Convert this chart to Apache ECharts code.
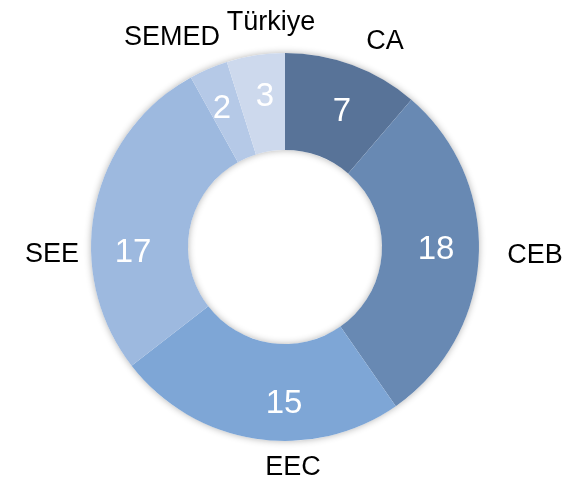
<!DOCTYPE html>
<html>
<head>
<meta charset="utf-8">
<script src="https://cdn.jsdelivr.net/npm/echarts@6/dist/echarts.min.js"></script>
<style>
  html, body { margin: 0; padding: 0; background: #fff; }
</style>
</head>
<body>
<div id="chart" style="width:562px; height:481px;"></div>
<script>
// data
const regions = ['CA', 'CEB', 'EEC', 'SEE', 'SEMED', 'Türkiye'];
const counts = [7, 18, 15, 17, 2, 3];
const colors = ['#587398', '#6889b3', '#7ea6d6', '#9db9df', '#b5c9e7', '#cdd9ed'];

// where the text sits (label layout only)
const nameLabelPos = [[385, 42], [535, 256], [293, 468], [52, 255], [172, 38], [271, 23]];
const valueLabelPos = [[342, 112], [436, 250], [284, 404], [133, 253], [222, 109], [265, 97]];

const FONT = '"Liberation Sans Narrow", "Liberation Sans", Arial, sans-serif';
const center = [285, 247];
const radius = [97, 194];

const pieData = regions.map((r, i) => ({
  name: r,
  value: counts[i],
  itemStyle: { color: colors[i] }
}));

const chart = echarts.init(document.getElementById('chart'), null, { renderer: 'canvas' });

chart.setOption({
  animation: false,
  backgroundColor: '#ffffff',
  series: [
    // soft shadow behind the ring
    {
      type: 'pie',
      silent: true,
      center: center,
      radius: radius,
      label: { show: false },
      labelLine: { show: false },
      itemStyle: {
        color: '#ffffff',
        shadowBlur: 7,
        shadowColor: 'rgba(0,0,0,0.3)'
      },
      data: [{ value: 1 }]
    },
    {
      type: 'pie',
      center: center,
      radius: radius,
      startAngle: 90,
      clockwise: true,
      avoidLabelOverlap: false,
      label: {
        show: true,
        position: 'inside',
        formatter: '{c}',
        color: '#ffffff',
        fontSize: 33,
        fontFamily: FONT
      },
      labelLayout: function (p) {
        const pos = valueLabelPos[p.dataIndex];
        return { x: pos[0], y: pos[1], align: 'center', verticalAlign: 'middle' };
      },
      labelLine: { show: false },
      data: pieData
    },
    // category names outside the ring
    {
      type: 'pie',
      silent: true,
      center: center,
      radius: radius,
      startAngle: 90,
      clockwise: true,
      avoidLabelOverlap: false,
      itemStyle: { color: 'rgba(0,0,0,0)' },
      label: {
        show: true,
        position: 'outside',
        formatter: '{b}',
        color: '#000000',
        fontSize: 27,
        fontFamily: FONT
      },
      labelLayout: function (p) {
        const pos = nameLabelPos[p.dataIndex];
        return { x: pos[0], y: pos[1], align: 'center', verticalAlign: 'middle' };
      },
      labelLine: { show: false },
      data: regions.map((r, i) => ({ name: r, value: counts[i] }))
    }
  ]
});
</script>
</body>
</html>
